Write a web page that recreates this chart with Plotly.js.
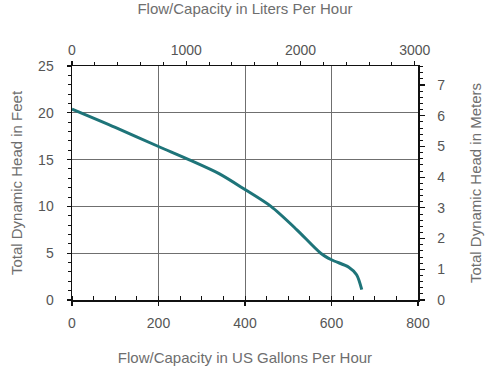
<!DOCTYPE html>
<html>
<head>
<meta charset="utf-8">
<script src="https://cdn.plot.ly/plotly-3.0.1.min.js"></script>
<style>html,body{margin:0;padding:0;background:#fff;}#chart{width:488px;height:368px;}</style>
</head>
<body>
<div id="chart"></div>
<script>
// Flow in US gallons per hour
const flowGph = [0, 100, 200, 270, 340, 400, 460, 520, 575, 600, 640, 658, 670];
// Total dynamic head in feet
const headFt = [20.4, 18.45, 16.4, 15.0, 13.5, 11.8, 10.0, 7.5, 5.0, 4.3, 3.5, 2.7, 1.1];

const xTitle = 'Flow/Capacity in US Gallons Per Hour';
const x2Title = 'Flow/Capacity in Liters Per Hour';
const yTitle = 'Total Dynamic Head in Feet';
const y2Title = 'Total Dynamic Head in Meters';

const GAL_TO_L = 3.78541;
const FT_TO_M = 0.3048;
const xMax = 800, yMax = 25;

const fam = '"Liberation Sans Narrow", "Liberation Sans", Arial, sans-serif';
const tickFont = {family: fam, size: 14, color: '#555'};
const titleFont = {family: fam, size: 15, color: '#6e6e6e'};

const traces = [
  {x: flowGph, y: headFt, type: 'scatter', mode: 'lines',
   line: {color: '#1e7479', width: 3, shape: 'spline', smoothing: 0.8},
   hoverinfo: 'skip', showlegend: false},
  {x: [0], y: [0], xaxis: 'x2', yaxis: 'y', mode: 'markers', marker: {opacity: 0}, hoverinfo: 'skip', showlegend: false},
  {x: [0], y: [0], xaxis: 'x', yaxis: 'y2', mode: 'markers', marker: {opacity: 0}, hoverinfo: 'skip', showlegend: false}
];

const layout = {
  width: 488, height: 368,
  margin: {l: 72, r: 70, t: 66, b: 68},
  paper_bgcolor: '#fff', plot_bgcolor: '#fff',
  xaxis: {
    range: [0, xMax], dtick: 200, tick0: 0,
    showgrid: true, gridcolor: '#6f6f6f', gridwidth: 1, zeroline: false,
    showline: true, linecolor: '#111', linewidth: 1.5,
    ticks: 'outside', ticklen: 4, tickcolor: '#111', tickwidth: 1.2,
    minor: {dtick: 50, ticks: 'inside', ticklen: 4, tickcolor: '#111', tickwidth: 1, showgrid: false},
    tickfont: tickFont, ticklabelstandoff: 6,
    title: {text: xTitle, font: titleFont, standoff: 22},
    fixedrange: true
  },
  xaxis2: {
    range: [0, xMax * GAL_TO_L], dtick: 1000, tick0: 0,
    overlaying: 'x', side: 'top', anchor: 'y',
    showgrid: false, zeroline: false,
    showline: true, linecolor: '#111', linewidth: 1.5,
    ticks: 'outside', ticklen: 4, tickcolor: '#111', tickwidth: 1.2,
    minor: {dtick: 200, ticks: 'outside', ticklen: 3, tickcolor: '#111', tickwidth: 1},
    tickfont: tickFont, ticklabelstandoff: 0,
    title: {text: x2Title, font: titleFont, standoff: 24},
    fixedrange: true
  },
  yaxis: {
    range: [0, yMax], dtick: 5, tick0: 0,
    showgrid: true, gridcolor: '#6f6f6f', gridwidth: 1, zeroline: false,
    showline: true, linecolor: '#111', linewidth: 1.5,
    ticks: 'outside', ticklen: 4, tickcolor: '#111', tickwidth: 1.2,
    minor: {dtick: 1, ticks: 'outside', ticklen: 3, tickcolor: '#111', tickwidth: 1, showgrid: false},
    tickfont: tickFont, ticklabelstandoff: 10,
    title: {text: yTitle, font: titleFont, standoff: 12},
    fixedrange: true
  },
  yaxis2: {
    range: [0, yMax * FT_TO_M], dtick: 1, tick0: 0,
    overlaying: 'y', side: 'right', anchor: 'x',
    showgrid: false, zeroline: false,
    showline: true, linecolor: '#111', linewidth: 1.5,
    ticks: 'outside', ticklen: 5, tickcolor: '#111', tickwidth: 1.2,
    minor: {dtick: 0.2, ticks: 'outside', ticklen: 3, tickcolor: '#111', tickwidth: 1},
    tickfont: tickFont, ticklabelstandoff: 10,
    title: {text: y2Title, font: titleFont, standoff: 26},
    fixedrange: true
  },
  showlegend: false
};

Plotly.newPlot('chart', traces, layout, {displayModeBar: false, staticPlot: true});
</script>
</body>
</html>
